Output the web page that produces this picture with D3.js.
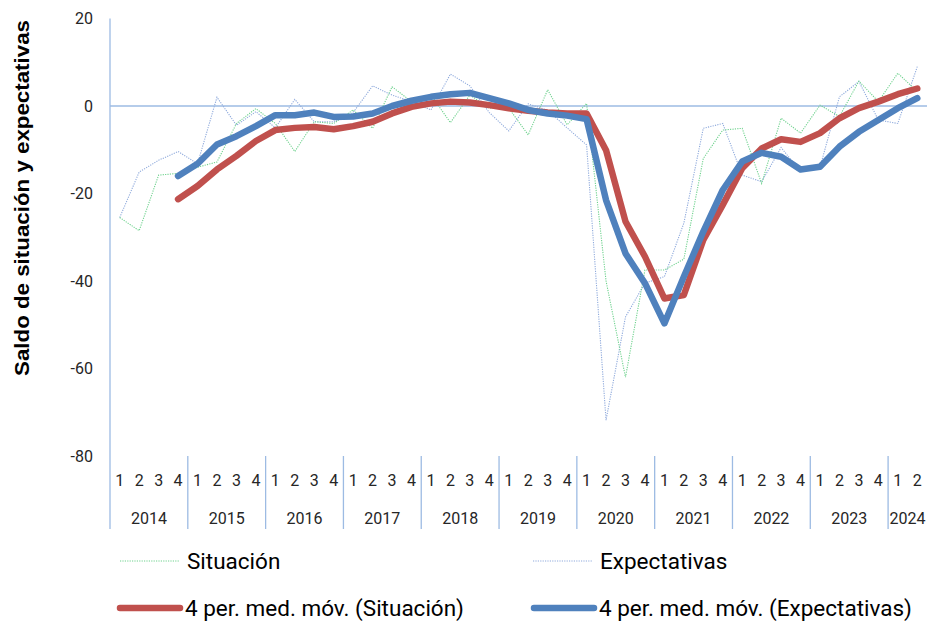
<!DOCTYPE html>
<html>
<head>
<meta charset="utf-8">
<script src="https://cdn.jsdelivr.net/npm/d3@7"></script>
<style>
  body { margin: 0; background: #fff; }
  svg { display: block; }
</style>
</head>
<body>
<svg id="chart"></svg>
<script>
const years = [2014, 2015, 2016, 2017, 2018, 2019, 2020, 2021, 2022, 2023, 2024];
const quartersPerYear = [4, 4, 4, 4, 4, 4, 4, 4, 4, 4, 2];
const yTicks = [20, 0, -20, -40, -60, -80];

// Situación (quarterly balance)
const situacion = [
  -25.5, -28.5, -15.8, -15.4,
  -14.0, -12.8, -4.0, -0.6,
  -4.0, -10.4, -3.6, -4.0,
  -0.9, -5.1, 4.4, 1.0,
  2.5, -3.8, 2.5, -0.5,
  -0.5, -6.6, 3.7, -4.3,
  0.6, -40.0, -62.0, -37.5,
  -37.5, -35.0, -12.0, -5.5,
  -5.1, -17.7, -2.8, -6.2,
  0.2, -2.4, 5.7, 1.0,
  7.5, 3.3
];
// Expectativas (quarterly balance)
const expectativas = [
  -25.5, -15.1, -12.4, -10.4,
  -13.2, 2.0, -4.4, -1.3,
  -5.0, 1.5, -3.6, -3.6,
  -1.5, 4.6, 2.5, 1.0,
  -0.9, 7.3, 4.6, -1.5,
  -5.7, 0.5, -1.0, -5.0,
  -8.9, -71.8, -48.2, -40.5,
  -39.0, -26.8, -5.1, -4.0,
  -15.8, -17.3, -9.5, -15.0,
  -14.0, 2.1, 5.6, -3.2,
  -4.0, 9.0
];
// 4 per. med. móv. (Situación)
const maSituacion = [
  null, null, null, -21.3,
  -18.3, -14.5, -11.4, -8.0,
  -5.5, -5.0, -4.8, -5.3,
  -4.6, -3.6, -1.7, -0.2,
  0.6, 1.0, 0.8, 0.2,
  -0.5, -1.1, -1.5, -1.7,
  -1.7, -10.1, -26.4, -34.4,
  -44.0, -43.2, -30.6, -22.6,
  -14.2, -9.7, -7.6, -8.2,
  -6.2, -2.8, -0.5, 1.0,
  2.7, 4.0
];
// 4 per. med. móv. (Expectativas)
const maExpectativas = [
  null, null, null, -16.0,
  -13.2, -8.8, -6.9, -4.6,
  -2.1, -2.1, -1.5, -2.5,
  -2.4, -1.7, 0.0, 1.2,
  2.1, 2.7, 3.0, 1.8,
  0.6, -0.9, -1.7, -2.2,
  -3.0, -21.5, -33.7, -40.5,
  -49.7, -39.0, -28.7, -19.2,
  -12.7, -10.7, -11.6, -14.5,
  -13.9, -9.3, -5.9, -3.2,
  -0.5, 1.8
];

const width = 927, height = 623;
const margin = { top: 18.5, right: 0, bottom: 167, left: 110 };
const axisColor = "#9dbbe3";
const tickFont = "Roboto, 'Liberation Sans', sans-serif";
const legendFont = "Roboto, 'Liberation Sans', sans-serif";

// one entry per quarter
const periods = [];
years.forEach((yr, i) => {
  for (let q = 1; q <= quartersPerYear[i]; q++) periods.push({ key: yr + "-" + q, year: yr, q });
});

const svg = d3.select("#chart").attr("width", width).attr("height", height);

const x = d3.scaleBand()
  .domain(periods.map(d => d.key))
  .range([margin.left, width - margin.right])
  .padding(0);

const y = d3.scaleLinear()
  .domain([-80, 20])
  .range([height - margin.bottom, margin.top]);

const cx = i => x(periods[i].key) + x.bandwidth() / 2;

// y axis labels (plain hyphen for negatives, as in the original)
svg.append("g")
  .attr("transform", `translate(${margin.left - 14},0)`)
  .call(d3.axisLeft(y).tickValues(yTicks).tickSize(0).tickFormat(d => String(d)))
  .call(g => g.select(".domain").remove())
  .call(g => g.selectAll("text")
    .attr("font-family", tickFont)
    .attr("font-size", 16)
    .attr("fill", "#262626"));

// vertical axis line (runs down through the category labels)
svg.append("line")
  .attr("x1", margin.left).attr("x2", margin.left)
  .attr("y1", margin.top).attr("y2", 529)
  .attr("stroke", axisColor).attr("stroke-width", 1.3);

// horizontal axis at zero
svg.append("line")
  .attr("x1", margin.left).attr("x2", width - margin.right)
  .attr("y1", y(0)).attr("y2", y(0))
  .attr("stroke", axisColor).attr("stroke-width", 1.3);

// quarter labels
svg.append("g")
  .attr("transform", `translate(0,${y(-80) + 16})`)
  .call(d3.axisBottom(x).tickSize(0).tickFormat(k => k.split("-")[1]))
  .call(g => g.select(".domain").remove())
  .call(g => g.selectAll("text")
    .attr("font-family", tickFont)
    .attr("font-size", 16)
    .attr("fill", "#262626"));

// year labels and separators
let start = 0;
years.forEach((yr, i) => {
  const first = periods[start].key;
  const last = periods[start + quartersPerYear[i] - 1].key;
  const x0 = x(first), x1 = x(last) + x.bandwidth();
  svg.append("text")
    .attr("x", (x0 + x1) / 2)
    .attr("y", 524)
    .attr("text-anchor", "middle")
    .attr("font-family", tickFont)
    .attr("font-size", 16)
    .attr("fill", "#262626")
    .text(yr);
  if (i > 0) {
    svg.append("line")
      .attr("x1", x0).attr("x2", x0)
      .attr("y1", y(-80)).attr("y2", 529)
      .attr("stroke", axisColor).attr("stroke-width", 1.3);
  }
  start += quartersPerYear[i];
});

// y axis title
svg.append("text")
  .attr("transform", `translate(29,${(20 + 376) / 2}) rotate(-90)`)
  .attr("text-anchor", "middle")
  .attr("font-family", "'Liberation Sans', Arial, sans-serif")
  .attr("font-weight", "bold")
  .attr("font-size", 19.5)
  .attr("textLength", 356)
  .attr("lengthAdjust", "spacingAndGlyphs")
  .attr("fill", "#000")
  .text("Saldo de situación y expectativas");

const line = d3.line()
  .defined(d => d != null)
  .x((d, i) => cx(i))
  .y(d => y(d));

// thin dotted series
svg.append("path")
  .datum(expectativas)
  .attr("d", line)
  .attr("fill", "none")
  .attr("stroke", "#8faadc")
  .attr("stroke-width", 1.1)
  .attr("stroke-dasharray", "1.2,1.2");

svg.append("path")
  .datum(situacion)
  .attr("d", line)
  .attr("fill", "none")
  .attr("stroke", "#6fd28e")
  .attr("stroke-width", 1.1)
  .attr("stroke-dasharray", "1.2,1.2");

// moving averages
svg.append("path")
  .datum(maSituacion)
  .attr("d", line)
  .attr("fill", "none")
  .attr("stroke", "#c0504d")
  .attr("stroke-width", 6.5)
  .attr("stroke-linejoin", "round")
  .attr("stroke-linecap", "round");

svg.append("path")
  .datum(maExpectativas)
  .attr("d", line)
  .attr("fill", "none")
  .attr("stroke", "#4f81bd")
  .attr("stroke-width", 6.5)
  .attr("stroke-linejoin", "round")
  .attr("stroke-linecap", "round");

// legend
const legendItems = [
  { label: "Situación", color: "#6fd28e", thick: false, x: 120, y: 561 },
  { label: "Expectativas", color: "#8faadc", thick: false, x: 533, y: 561 },
  { label: "4 per. med. móv. (Situación)", color: "#c0504d", thick: true, x: 120, y: 608 },
  { label: "4 per. med. móv. (Expectativas)", color: "#4f81bd", thick: true, x: 534, y: 608 }
];

const legend = svg.append("g");
legendItems.forEach(item => {
  legend.append("line")
    .attr("x1", item.x).attr("x2", item.x + 60)
    .attr("y1", item.y).attr("y2", item.y)
    .attr("stroke", item.color)
    .attr("stroke-width", item.thick ? 6.5 : 1.1)
    .attr("stroke-linecap", item.thick ? "round" : "butt")
    .attr("stroke-dasharray", item.thick ? null : "1.2,1.2");
  legend.append("text")
    .attr("x", item.x + (item.thick ? 65 : 67))
    .attr("y", item.y)
    .attr("dy", "0.35em")
    .attr("font-family", legendFont)
    .attr("font-size", 22.5)
    .attr("fill", "#000")
    .text(item.label);
});
</script>
</body>
</html>
